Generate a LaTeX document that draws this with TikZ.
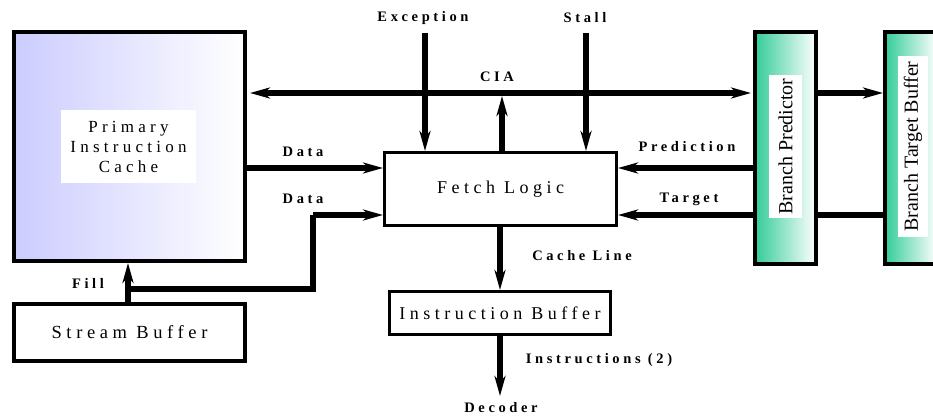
\documentclass[tikz,border=0pt]{standalone}
\usepackage{fontspec}
\setmainfont{Liberation Serif}
\newfontfamily\spfont[LetterSpace=25]{Liberation Serif}
\usetikzlibrary{arrows.meta}
\definecolor{picblue}{RGB}{204,204,255}
\definecolor{teal1}{RGB}{51,204,153}
\tikzset{
  blk/.style={draw=black, line width=3pt, rectangle, inner sep=0pt,
    font=\spfont\fontsize{18}{20}\selectfont},
  lbl/.style={inner sep=0pt, font=\spfont\bfseries\fontsize{14.5}{16}\selectfont},
  wire/.style={line width=6pt},
  arr/.style={line width=6pt, -{Stealth[length=20pt,width=11pt,inset=6pt]}},
  darr/.style={line width=6pt, {Stealth[length=20pt,width=11pt,inset=6pt]}-{Stealth[length=20pt,width=11pt,inset=6pt]}},
}
\begin{document}
\begin{tikzpicture}[x=1pt,y=-1pt]
\clip (0,0) rectangle (933,417);
\fill[white] (0,0) rectangle (933,417);
% blocks
\node[blk, line width=4pt, left color=picblue, right color=white, minimum width=231pt, minimum height=229pt] (pic) at (129.5,146.5) {};
\node[fill=white, inner sep=0pt, minimum width=135pt, minimum height=73pt, align=center,
  font=\spfont\fontsize{17}{20}\selectfont] (piclbl) at (128.5,146.5) {Primary\\Instruction\\Cache};
\node[blk, minimum width=232pt, minimum height=73pt] (fetch) at (500.5,189) {Fetch Logic};
\node[blk, line width=4pt, minimum width=231pt, minimum height=57pt, font=\spfont\fontsize{18.5}{20}\selectfont] (sb) at (129.5,332.5) {Stream Buffer};
\node[blk, minimum width=221pt, minimum height=43pt] (ib) at (500,313) {Instruction Buffer};
\node[blk, line width=4pt, left color=teal1, right color=white, minimum width=61pt, minimum height=232pt] (bp) at (785.5,148) {};
\node[fill=white, inner sep=0pt, rotate=90, minimum width=143pt, minimum height=33pt,
  font=\fontsize{20}{22}\selectfont] (bplbl) at (785.5,146.5) {Branch Predictor};
\node[blk, line width=4pt, left color=teal1, right color=white, minimum width=52pt, minimum height=232pt] (btb) at (911,148) {};
\node[fill=white, inner sep=0pt, rotate=90, minimum width=181pt, minimum height=30pt,
  font=\fontsize{20}{22}\selectfont] (btblbl) at (913,146.5) {Branch Target Buffer};
% coordinates
\coordinate (ciay) at (0,93);
\coordinate (d1y) at (0,168);
\coordinate (d2y) at (0,215);
\coordinate (exctop) at (425,33);
\coordinate (stalltop) at (586,33);
\coordinate (ciaup) at (502,96);
\coordinate (j) at (128,289);
\coordinate (bend) at (313,289);
\coordinate (bend2) at (313,215);
\coordinate (dec) at (500,396);
% connectors
\draw[darr] ([xshift=3pt]pic.east |- ciay) -- ([xshift=-2pt]bp.west |- ciay);
\draw[arr] (exctop) -- (exctop |- fetch.north);
\draw[arr] (stalltop) -- (stalltop |- fetch.north);
\draw[arr] (ciaup |- fetch.north) -- (ciaup);
\draw[arr] (pic.east |- d1y) -- (fetch.west |- d1y);
\draw[arr] (bp.west |- d1y) -- (fetch.east |- d1y);
\draw[wire] (btb.west |- d2y) -- (bp.east |- d2y);
\draw[arr] (bp.west |- d2y) -- (fetch.east |- d2y);
\draw[arr] (bp.east |- ciay) -- (btb.west |- ciay);
\draw[arr] (sb.north -| j) -- (pic.south -| j);
\draw[wire] (j) -- (bend) -- (bend2);
\draw[arr] (bend2) -- (fetch.west |- bend2);
\draw[arr] (fetch.south -| dec) -- (ib.north -| dec);
\draw[arr] (ib.south -| dec) -- (dec);
% labels
\node[lbl] (excl) at (423,18) {Exception};
\node[lbl] (stalll) at (585,18) {Stall};
\node[lbl] (cial) at (497,77) {CIA};
\node[lbl] (data1) at (303,152) {Data};
\node[lbl] (data2) at (303,199) {Data};
\node[lbl] (predl) at (687,147) {Prediction};
\node[lbl] (targl) at (689,199) {Target};
\node[lbl] (filll) at (88,283) {Fill};
\node[lbl] (cachel) at (582,256) {Cache Line};
\node[lbl] (instl) at (599,360) {Instructions (2)};
\node[lbl] (decl) at (501,408) {Decoder};
\end{tikzpicture}
\end{document}
